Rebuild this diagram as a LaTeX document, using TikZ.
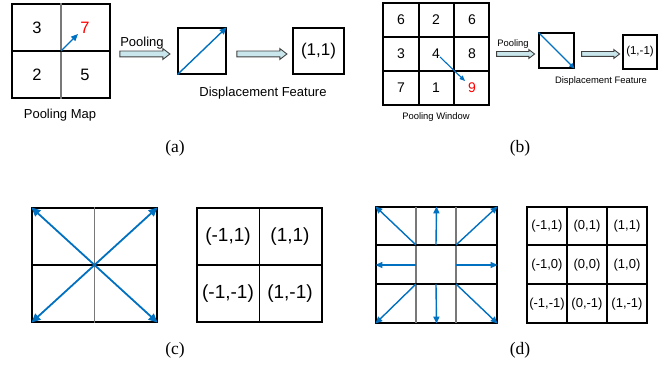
\documentclass[tikz,border=0pt]{standalone}
\usepackage{fontspec}
\setmainfont{Liberation Sans}
\newfontfamily\capfont{Liberation Serif}
\usetikzlibrary{arrows.meta,shapes.arrows}
\definecolor{arrblue}{RGB}{0,112,192}
\definecolor{shaftfill}{RGB}{200,230,235}
\definecolor{midgray}{RGB}{120,120,120}
\tikzset{
  cellbox/.style={draw=black,line width=1.2pt,inner sep=0pt},
  grid/.style={line width=1.2pt},
  gline/.style={line width=1.2pt,draw=midgray},
  num/.style={inner sep=0pt,font=\fontsize{16.5}{18}\selectfont},
  numb/.style={inner sep=0pt,font=\fontsize{14}{16}\selectfont},
  lab/.style={inner sep=0pt,font=\fontsize{13}{15}\selectfont},
  labs/.style={inner sep=0pt,font=\fontsize{9.4}{11}\selectfont},
  capt/.style={inner sep=0pt,font=\capfont\fontsize{17.5}{19}\selectfont},
  barrow/.style={single arrow,draw=black!75,fill=shaftfill,line width=0.9pt,inner sep=2.5pt,
     single arrow head extend=2.5pt,single arrow tip angle=75,minimum height=#1,anchor=center},
  barrows/.style={single arrow,draw=black!75,fill=shaftfill,line width=0.9pt,inner sep=2pt,
     single arrow head extend=2pt,single arrow tip angle=75,minimum height=#1,anchor=center},
  bluearr/.style={draw=arrblue,line width=1.4pt,-{Triangle[length=7pt,width=6pt]}},
  bluedbl/.style={draw=arrblue,line width=1.8pt,{Triangle[length=9pt,width=8pt]}-{Triangle[length=9pt,width=8pt]}},
}
\begin{document}
\begin{tikzpicture}[x=1pt,y=-1pt]
\useasboundingbox (0,0) rectangle (667,366);
% ---------------- (a) ----------------
\node[cellbox,minimum width=98pt,minimum height=94pt] (pa) at (61,51) {};
\draw[gline] (pa.north) -- (pa.south);
\draw[grid] (pa.west) -- (pa.east);
\node[num] (a3) at (37,28) {3};
\node[num,text=red] (a7) at (85,28) {7};
\node[num] (a2) at (37,75) {2};
\node[num] (a5) at (85,75) {5};
\coordinate (a7t) at (78,34);
\draw[bluearr] (pa.center) -- (a7t);
\node[barrow=50pt] (ba1) at (143,54) {};
\node[lab] (poola) at (142,43) {Pooling};
\node[cellbox,minimum width=48pt,minimum height=46pt] (fa) at (202,51) {};
\draw[bluearr] (fa.south west) -- (fa.north east);
\node[barrow=50pt] (ba2) at (260,54) {};
\node[cellbox,minimum width=51pt,minimum height=46pt,font=\fontsize{17}{19}\selectfont] (va) at (318.5,51) {(1,1)};
\node[lab] (dfa) at (263,93) {Displacement Feature};
\node[lab] (pma) at (60,115) {Pooling Map};
\node[capt] (capa) at (175,148) {(a)};
% ---------------- (b) ----------------
\node[cellbox,minimum width=106pt,minimum height=102pt] (pw) at (436,54) {};
\draw[grid] (419,3) -- (419,105) (454,3) -- (454,105);
\draw[grid] (383,37) -- (489,37) (383,71) -- (489,71);
\node[numb] (b11) at (401,20) {6};
\node[numb] (b12) at (436,20) {2};
\node[numb] (b13) at (472,20) {6};
\node[numb] (b21) at (401,54) {3};
\node[numb] (b22) at (436,54) {4};
\node[numb] (b23) at (472,54) {8};
\node[numb] (b31) at (401,88) {7};
\node[numb] (b32) at (436,88) {1};
\node[numb,text=red] (b33) at (472,88) {9};
\coordinate (b4s) at (440,57);
\coordinate (b9e) at (465,81);
\draw[bluearr,line width=1.1pt,-{Triangle[length=5.5pt,width=4.5pt]}] (b4s) -- (b9e);
\node[barrows=38pt] (bb1) at (514,54) {};
\node[labs] (poolb) at (513,44) {Pooling};
\node[cellbox,minimum width=35pt,minimum height=35pt] (fb) at (556.5,50.5) {};
\draw[bluearr,line width=1.1pt,-{Triangle[length=5.5pt,width=4.5pt]}] (fb.north west) -- (fb.south east);
\node[barrows=38pt] (bb2) at (599,54) {};
\node[cellbox,minimum width=34pt,minimum height=34pt,font=\fontsize{11.5}{13}\selectfont] (vb) at (640,52) {(1,-1)};
\node[labs] (dfb) at (601,81) {Displacement Feature};
\node[labs] (pwb) at (436,117) {Pooling Window};
\node[capt] (capb) at (520,148) {(b)};
% ---------------- (c) ----------------
\node[cellbox,minimum width=125pt,minimum height=114pt] (gc) at (94.5,265) {};
\draw[gline] (gc.north) -- (gc.south);
\draw[grid] (gc.west) -- (gc.east);
\draw[bluedbl] (gc.north west) -- (gc.south east);
\draw[bluedbl] (gc.south west) -- (gc.north east);
\node[cellbox,minimum width=125pt,minimum height=114pt] (tc) at (259.5,265) {};
\draw[grid] (tc.north) -- (tc.south);
\draw[grid] (tc.west) -- (tc.east);
\node[num,font=\fontsize{19}{21}\selectfont] (c11) at (228,237) {(-1,1)};
\node[num,font=\fontsize{19}{21}\selectfont] (c12) at (290,237) {(1,1)};
\node[num,font=\fontsize{19}{21}\selectfont] (c21) at (228,294) {(-1,-1)};
\node[num,font=\fontsize{19}{21}\selectfont] (c22) at (290,294) {(1,-1)};
\node[capt] (capc) at (175,350) {(c)};
% ---------------- (d) ----------------
\node[cellbox,minimum width=121pt,minimum height=116pt] (gd) at (436.5,265) {};
\draw[gline] (416,207) -- (416,323) (456,207) -- (456,323);
\draw[grid] (376,245) -- (497,245) (376,284) -- (497,284);
\coordinate (inw) at (416,245);
\coordinate (ine) at (456,245);
\coordinate (isw) at (416,284);
\coordinate (ise) at (456,284);
\coordinate (in) at (436,245);
\coordinate (is) at (436,284);
\coordinate (iw) at (416,265);
\coordinate (ie) at (456,265);
\draw[bluearr] (inw) -- (gd.north west);
\draw[bluearr] (ine) -- (gd.north east);
\draw[bluearr] (isw) -- (gd.south west);
\draw[bluearr] (ise) -- (gd.south east);
\draw[bluearr] (in) -- (gd.north);
\draw[bluearr] (is) -- (gd.south);
\draw[bluearr] (iw) -- (gd.west);
\draw[bluearr] (ie) -- (gd.east);
\node[cellbox,minimum width=120pt,minimum height=116pt] (td) at (587,265) {};
\draw[grid] (567,207) -- (567,323) (607,207) -- (607,323);
\draw[grid] (527,245) -- (647,245) (527,284) -- (647,284);
\node[num,font=\fontsize{13}{15}\selectfont] (d11) at (547,226) {(-1,1)};
\node[num,font=\fontsize{13}{15}\selectfont] (d12) at (587,226) {(0,1)};
\node[num,font=\fontsize{13}{15}\selectfont] (d13) at (627,226) {(1,1)};
\node[num,font=\fontsize{13}{15}\selectfont] (d21) at (547,265) {(-1,0)};
\node[num,font=\fontsize{13}{15}\selectfont] (d22) at (587,265) {(0,0)};
\node[num,font=\fontsize{13}{15}\selectfont] (d23) at (627,265) {(1,0)};
\node[num,font=\fontsize{13}{15}\selectfont] (d31) at (547,304) {(-1,-1)};
\node[num,font=\fontsize{13}{15}\selectfont] (d32) at (587,304) {(0,-1)};
\node[num,font=\fontsize{13}{15}\selectfont] (d33) at (627,304) {(1,-1)};
\node[capt] (capd) at (520,350) {(d)};
\end{tikzpicture}
\end{document}
